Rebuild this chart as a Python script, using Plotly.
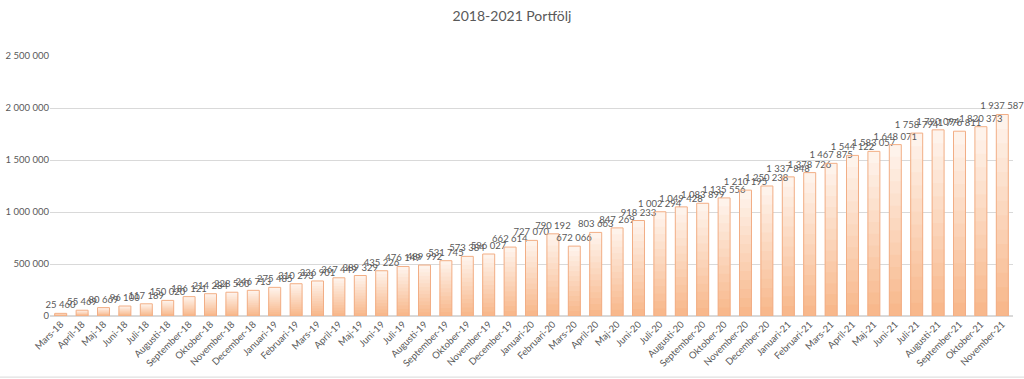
import plotly.graph_objects as go

months = ["Mars-18", "April-18", "Maj-18", "Juni-18", "Juli-18", "Augusti-18", "September-18",
          "Oktober-18", "November-18", "December-18", "Januari-19", "Februari-19", "Mars-19",
          "April-19", "Maj-19", "Juni-19", "Juli-19", "Augusti-19", "September-19", "Oktober-19",
          "November-19", "December-19", "Januari-20", "Februari-20", "Mars-20", "April-20",
          "Maj-20", "Juni-20", "Juli-20", "Augusti-20", "September-20", "Oktober-20",
          "November-20", "December-20", "Januari-21", "Februari-21", "Mars-21", "April-21",
          "Maj-21", "Juni-21", "Juli-21", "Augusti-21", "September-21", "Oktober-21",
          "November-21"]

portfolio = [25460, 55469, 80669, 96100, 117189, 150020, 186121,
             214284, 228560, 246713, 275485, 310293, 336901,
             367449, 389329, 435226, 476149, 489992, 531745, 573384,
             596027, 662614, 727070, 790192, 672066, 803663,
             847269, 918233, 1002294, 1049428, 1083899, 1135556,
             1210195, 1250238, 1337848, 1378726, 1467875, 1544122,
             1583057, 1648071, 1758794, 1790094, 1776811, 1820373,
             1937587]

y_ticks = [0, 500000, 1000000, 1500000, 2000000, 2500000]

top_rgb = (254, 243, 235)
bot_rgb = (248, 184, 140)
N = 14

fig = go.Figure()
for k in range(N):
    t = k / (N - 1)
    f = 1 - k / N
    c = tuple(round(top_rgb[i] + (bot_rgb[i] - top_rgb[i]) * t) for i in range(3))
    fig.add_trace(go.Bar(
        x=months, y=[v * f for v in portfolio],
        marker=dict(color="rgb(%d,%d,%d)" % c, line=dict(width=0)),
        hoverinfo="skip", showlegend=False,
    ))

fig.add_trace(go.Bar(
    x=months, y=portfolio,
    marker=dict(color="rgba(0,0,0,0)", line=dict(color="#f2ae85", width=1)),
    text=portfolio, texttemplate="%{y:,d}", textposition="outside",
    constraintext="none", cliponaxis=False,
    textfont=dict(size=9.5, color="#595959"),
    showlegend=False,
))

fig.update_layout(
    barmode="overlay",
    bargap=0.44,
    separators=", ",
    width=1024, height=379,
    margin=dict(l=50, r=11, t=56, b=63, autoexpand=False),
    paper_bgcolor="white", plot_bgcolor="white",
    font=dict(family="Lato, Open Sans, sans-serif", color="#595959"),
    title=dict(text="2018-2021 Portfölj", x=0.5, xanchor="center", y=0.957, yanchor="middle",
               font=dict(size=14, color="#595959"), automargin=False),
    xaxis=dict(tickangle=-45, tickfont=dict(size=9.5, color="#595959"), automargin=False,
               showgrid=False, showline=False, ticks="", range=[-0.5, len(months) - 0.5]),
    yaxis=dict(range=[0, 2500000], tickvals=y_ticks, tickformat=",d", automargin=False,
               tickfont=dict(size=9.5, color="#595959"),
               showgrid=True, gridcolor="#d9d9d9", gridwidth=1,
               zeroline=True, zerolinecolor="#d9d9d9", showline=False, ticks=""),
    shapes=[dict(type="line", xref="paper", yref="paper", x0=-0.06, x1=1.02, y0=-0.235, y1=-0.235,
                 line=dict(color="#d9d9d9", width=1))],
)

fig.write_html("out.html", config={"displayModeBar": False},
               post_script="document.body.style.margin='0';document.body.style.overflow='hidden';")
